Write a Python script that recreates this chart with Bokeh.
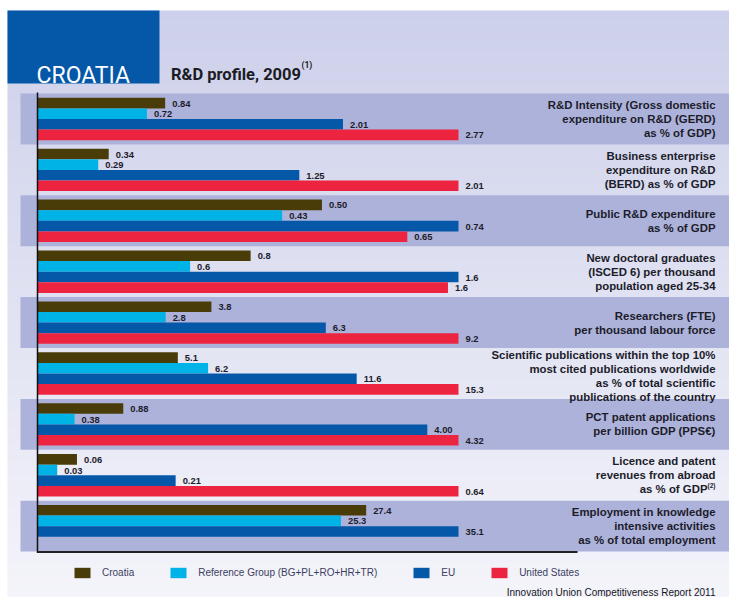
import numpy as np
from bokeh.plotting import figure
from bokeh.models import Range1d, ColumnDataSource, Legend, LegendItem
from bokeh.core.properties import value
from bokeh.embed import file_html
from bokeh.resources import INLINE

# ---------------- data ----------------
categories = [
    "R&D Intensity (Gross domestic\nexpenditure on R&D (GERD)\nas % of GDP)",
    "Business enterprise\nexpenditure on R&D\n(BERD) as % of GDP",
    "Public R&D expenditure\nas % of GDP",
    "New doctoral graduates\n(ISCED 6) per thousand\npopulation aged 25-34",
    "Researchers (FTE)\nper thousand labour force",
    "Scientific publications within the top 10%\nmost cited publications worldwide\nas % of total scientific\npublications of the country",
    "PCT patent applications\nper billion GDP (PPS\u20ac)",
    "Licence and patent\nrevenues from abroad\nas % of GDP",
    "Employment in knowledge\nintensive activities\nas % of total employment",
]
footnotes = ["", "", "", "", "", "", "", "(2)", ""]
series_names = ["Croatia", "Reference Group (BG+PL+RO+HR+TR)", "EU", "United States"]
croatia = [0.84, 0.34, 0.50, 0.81, 3.8, 5.1, 0.88, 0.06, 27.4]
ref_group = [0.72, 0.29, 0.43, 0.58, 2.8, 6.2, 0.38, 0.03, 25.3]
eu = [2.01, 1.25, 0.74, 1.60, 6.3, 11.6, 4.00, 0.21, 35.1]
united_states = [2.77, 2.01, 0.65, 1.56, 9.2, 15.3, 4.32, 0.64, None]
decimals = [2, 2, 2, 1, 1, 1, 2, 2, 1]
title_country = "CROATIA"
title_text = "R&D profile, 2009"
title_note = "(1)"
source_text = "Innovation Union Competitiveness Report 2011"

# ---------------- style / layout ----------------
colors = ["#4a3c08", "#00b3e6", "#0558a8", "#ed2440"]
FONT = value("Liberation Sans")
TITLE_FONT = value("Roboto")
W, H = 729, 597
AX0, AXF = 37.0, 458.0          # pixel of zero and of the row maximum
BAND0, PITCH = 93.0, 50.9
BAR_OFF, BAR_H = 4.3, 10.6
LINE_H = 14.0
label_shift = [0, 0, 0, 0, 0, 3, 0, 0, 0]


def X(px):
    return (px - AX0) / (AXF - AX0)


p = figure(width=W, height=H,
           x_range=Range1d(X(0), X(W)),
           y_range=Range1d(H, 0),
           output_backend="svg", toolbar_location=None,
           x_axis_type=None, y_axis_type=None,
           min_border=0, outline_line_color=None,
           background_fill_color="white", border_fill_color="white")
p.grid.visible = False

# background gradient panel
top_c = np.array([205, 208, 234])
bot_c = np.array([244, 244, 250])
ys = np.arange(10, H + 3, 3.0)
cols = []
for y in ys:
    f = min(max((y - 10) / (597 - 10), 0), 1)
    c = top_c + f * (bot_c - top_c)
    cols.append("#%02x%02x%02x" % tuple(int(round(v)) for v in c))
p.quad(left=X(7), right=X(729), top=ys, bottom=ys + 3.6, fill_color=cols, line_color=None)

# dark bands
n = len(categories)
band_tops = [BAND0 + i * PITCH for i in range(n)]
dark = [t for i, t in enumerate(band_tops) if i % 2 == 0]
p.quad(left=X(20), right=X(729), top=dark, bottom=[t + PITCH for t in dark],
       fill_color="#adb2db", line_color=None)

# header box
p.quad(left=X(7), right=X(159), top=10, bottom=83, fill_color="#0558a8", line_color=None)
p.text(x=[X(36)], y=[74.5], text=[title_country], text_color="white",
       text_font=TITLE_FONT, text_font_size="23px", text_baseline="alphabetic")
p.text(x=[X(170.5)], y=[74.3], text=[title_text], text_color="#1b1b24",
       text_font=TITLE_FONT, text_font_size="16.5px", text_font_style="bold",
       text_baseline="alphabetic")
p.text(x=[X(301)], y=[64.5], text=[title_note], text_color="#1b1b24",
       text_font=TITLE_FONT, text_font_size="8.5px", text_font_style="bold",
       text_baseline="middle")

# bars
all_series = [croatia, ref_group, eu, united_states]
row_max = [max(v for v in (s[i] for s in all_series) if v is not None) for i in range(n)]
renderers = []
for k, (vals, col) in enumerate(zip(all_series, colors)):
    yy, rr, lab = [], [], []
    for i, v in enumerate(vals):
        if v is None:
            continue
        yy.append(band_tops[i] + BAR_OFF + k * BAR_H + BAR_H / 2)
        rr.append(v / row_max[i])
        lab.append(f"{v:.{decimals[i]}f}")
    src = ColumnDataSource(dict(y=yy, right=rr, label=lab))
    r = p.hbar(y="y", left=0, right="right", height=BAR_H, fill_color=col,
               line_color=None, source=src)
    renderers.append(r)
    p.text(x="right", y="y", text="label", source=src, x_offset=7, y_offset=0.5,
           text_baseline="middle", text_align="left", text_font=FONT,
           text_font_size="9.4px", text_font_style="bold", text_color="#1c1c2a")

# category labels
for i, cat in enumerate(categories):
    lines = cat.split("\n")
    m = len(lines)
    center = band_tops[i] + PITCH / 2 + label_shift[i]
    for j, line in enumerate(lines):
        y = center + (j - (m - 1) / 2) * LINE_H
        xr = 715
        if j == m - 1 and footnotes[i]:
            xr = 707
            p.text(x=[X(xr)], y=[y - 3.5], text=[footnotes[i]], text_font=FONT,
                   text_font_size="6.5px", text_font_style="bold", text_color="#1c1c2a",
                   text_align="left", text_baseline="middle")
        p.text(x=[X(xr)], y=[y], text=[line], text_font=FONT, text_font_size="11.4px",
               text_font_style="bold", text_color="#1c1c2a", text_align="right",
               text_baseline="middle")

# axis lines
p.segment(x0=[0], y0=[92], x1=[0], y1=[552.5], line_color="#111111", line_width=1.5)
p.segment(x0=[0], y0=[551.5], x1=[X(577)], y1=[551.5], line_color="#222222", line_width=2)

# legend
legend = Legend(items=[LegendItem(label=nm, renderers=[r]) for nm, r in zip(series_names, renderers)],
                orientation="horizontal", location=(72, 18), glyph_width=20, glyph_height=13,
                label_standoff=10, spacing=34, padding=0, margin=0, label_width=0,
                border_line_color=None, background_fill_alpha=0,
                label_text_font="Liberation Sans", label_text_font_size="10px",
                label_text_color="#3b4060", label_height=13)
p.add_layout(legend)

# source note
p.text(x=[X(715)], y=[591.5], text=[source_text], text_font=FONT, text_font_size="10px",
       text_color="#15151f", text_align="right", text_baseline="middle")

open("out.html", "w").write(file_html(p, INLINE))
